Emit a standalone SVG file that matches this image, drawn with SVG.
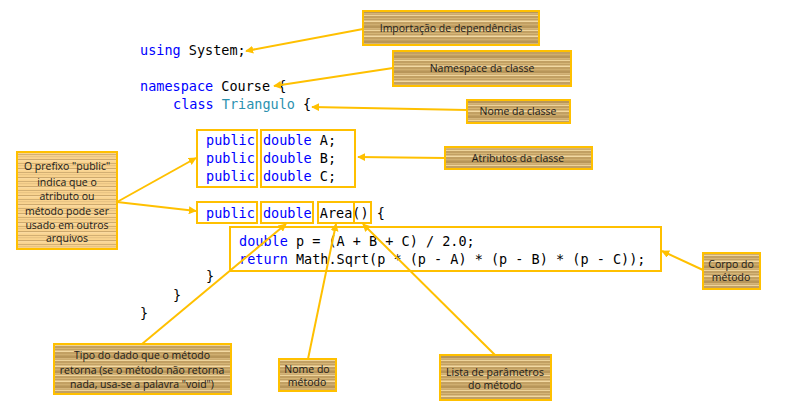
<svg xmlns="http://www.w3.org/2000/svg" width="786" height="406" viewBox="0 0 786 406">
<defs>
<pattern id="wood" patternUnits="userSpaceOnUse" width="20" height="15">
<rect width="20" height="15" fill="#c2a063"/>
<rect y="0" width="20" height="1" fill="#eed49c"/>
<rect y="3" width="20" height="1" fill="#d6b677"/>
<rect y="5.5" width="20" height="1.5" fill="#f2d9a3"/>
<rect y="9" width="20" height="1" fill="#cfae70"/>
<rect y="11" width="20" height="2" fill="#b8965a"/>
<rect y="13.5" width="20" height="0.8" fill="#e6c88e"/>
</pattern>
<pattern id="woodlight" patternUnits="userSpaceOnUse" width="20" height="9">
<rect width="20" height="9" fill="#f9d38f"/>
<rect y="1" width="20" height="0.8" fill="#c9a66c"/>
<rect y="3.5" width="20" height="0.6" fill="#d9b67a"/>
<rect y="6" width="20" height="0.8" fill="#c29f65"/>
<rect y="7.6" width="20" height="0.6" fill="#fce4b4"/>
</pattern>
<marker id="ah" viewBox="0 0 10 10" refX="9" refY="5" markerWidth="4" markerHeight="4" orient="auto" markerUnits="strokeWidth">
<path d="M0,0 L10,5 L0,10 z" fill="#ffc000"/>
</marker>
<style>
.code{font-family:"DejaVu Sans Mono","Liberation Mono",monospace;font-size:13.5px;fill:#000}
.kw{fill:#0000ff}
.ty{fill:#2b91af}
.lbl{font-family:"Open Sans","Liberation Sans",sans-serif;font-size:10.5px;fill:#1a1a1a;text-anchor:middle}
.box{fill:url(#wood);stroke:#ffc000;stroke-width:2}
.boxl{fill:url(#woodlight);stroke:#ffc000;stroke-width:2}
.hl{fill:none;stroke:#ffc000;stroke-width:2}
.con{fill:none;stroke:#ffc000;stroke-width:2}
</style>
</defs>
<rect width="786" height="406" fill="#fff"/>

<g id="code">
<text class="code" x="140" y="55"><tspan class="kw">using</tspan> System;</text>
<text class="code" x="140" y="91"><tspan class="kw">namespace</tspan> Course {</text>
<text class="code" x="173" y="109"><tspan class="kw">class</tspan> <tspan class="ty">Triangulo</tspan> {</text>
<text class="code" x="206" y="145"><tspan class="kw">public</tspan> <tspan class="kw">double</tspan> A;</text>
<text class="code" x="206" y="163"><tspan class="kw">public</tspan> <tspan class="kw">double</tspan> B;</text>
<text class="code" x="206" y="181"><tspan class="kw">public</tspan> <tspan class="kw">double</tspan> C;</text>
<text class="code" x="206" y="218"><tspan class="kw">public</tspan> <tspan class="kw">double</tspan> Area() {</text>
<text class="code" x="239" y="246"><tspan class="kw">double</tspan> p = (A + B + C) / 2.0;</text>
<text class="code" x="239" y="264"><tspan class="kw">return</tspan> Math.Sqrt(p * (p - A) * (p - B) * (p - C));</text>
<text class="code" x="206" y="281">}</text>
<text class="code" x="173" y="300">}</text>
<text class="code" x="140" y="318">}</text>
</g>

<g id="highlights">
<rect class="hl" x="197" y="130" width="60" height="57"/>
<rect class="hl" x="261" y="130" width="94" height="57"/>
<rect class="hl" x="197" y="202" width="60" height="21"/>
<rect class="hl" x="261" y="202" width="52" height="21"/>
<rect class="hl" x="318" y="202" width="36" height="21"/>
<rect class="hl" x="354" y="202" width="17" height="21"/>
<rect class="hl" x="230" y="227" width="431" height="44"/>
</g>

<g id="connectors">
<line class="con" x1="363" y1="29" x2="246" y2="51" marker-end="url(#ah)"/>
<line class="con" x1="393" y1="68" x2="274" y2="86" marker-end="url(#ah)"/>
<line class="con" x1="467" y1="110" x2="312" y2="107" marker-end="url(#ah)"/>
<line class="con" x1="445" y1="158" x2="358" y2="157" marker-end="url(#ah)"/>
<line class="con" x1="703" y1="270" x2="662" y2="251" marker-end="url(#ah)"/>
<line class="con" x1="117" y1="202" x2="196" y2="158" marker-end="url(#ah)"/>
<line class="con" x1="117" y1="202" x2="196" y2="211" marker-end="url(#ah)"/>
<line class="con" x1="142" y1="344" x2="286" y2="224" marker-end="url(#ah)"/>
<line class="con" x1="308" y1="359" x2="336" y2="224" marker-end="url(#ah)"/>
<line class="con" x1="495" y1="355" x2="363" y2="224" marker-end="url(#ah)"/>
</g>

<g id="n-importacao">
<rect class="box" x="363" y="11" width="176" height="34"/>
<text class="lbl" x="451" y="32">Importação de dependências</text>
</g>
<g id="n-namespace">
<rect class="box" x="393" y="51" width="178" height="35"/>
<text class="lbl" x="482" y="72">Namespace da classe</text>
</g>
<g id="n-nome-classe">
<rect class="box" x="467" y="100" width="103" height="23"/>
<text class="lbl" x="518" y="115">Nome da classe</text>
</g>
<g id="n-atributos">
<rect class="box" x="445" y="147" width="147" height="22"/>
<text class="lbl" x="518" y="162">Atributos da classe</text>
</g>
<g id="n-corpo">
<rect class="box" x="703" y="253" width="57" height="36"/>
<text class="lbl" x="731" y="268">Corpo do</text>
<text class="lbl" x="731" y="281">método</text>
</g>
<g id="n-public">
<rect class="boxl" x="17" y="152" width="100" height="97"/>
<text class="lbl" x="67" y="170">O prefixo "public"</text>
<text class="lbl" x="67" y="186">indica que o</text>
<text class="lbl" x="67" y="200">atributo ou</text>
<text class="lbl" x="67" y="215">método pode ser</text>
<text class="lbl" x="67" y="229">usado em outros</text>
<text class="lbl" x="67" y="242">arquivos</text>
</g>
<g id="n-tipo">
<rect class="box" x="54" y="344" width="177" height="50"/>
<text class="lbl" x="142" y="359">Tipo do dado que o método</text>
<text class="lbl" x="142" y="374">retorna (se o método não retorna</text>
<text class="lbl" x="142" y="388">nada, usa-se a palavra "void")</text>
</g>
<g id="n-nome-metodo">
<rect class="box" x="279" y="359" width="57" height="32"/>
<text class="lbl" x="307" y="373">Nome do</text>
<text class="lbl" x="307" y="386">método</text>
</g>
<g id="n-lista">
<rect class="box" x="440" y="355" width="111" height="45"/>
<text class="lbl" x="495" y="376">Lista de parâmetros</text>
<text class="lbl" x="495" y="389">do método</text>
</g>
</svg>
